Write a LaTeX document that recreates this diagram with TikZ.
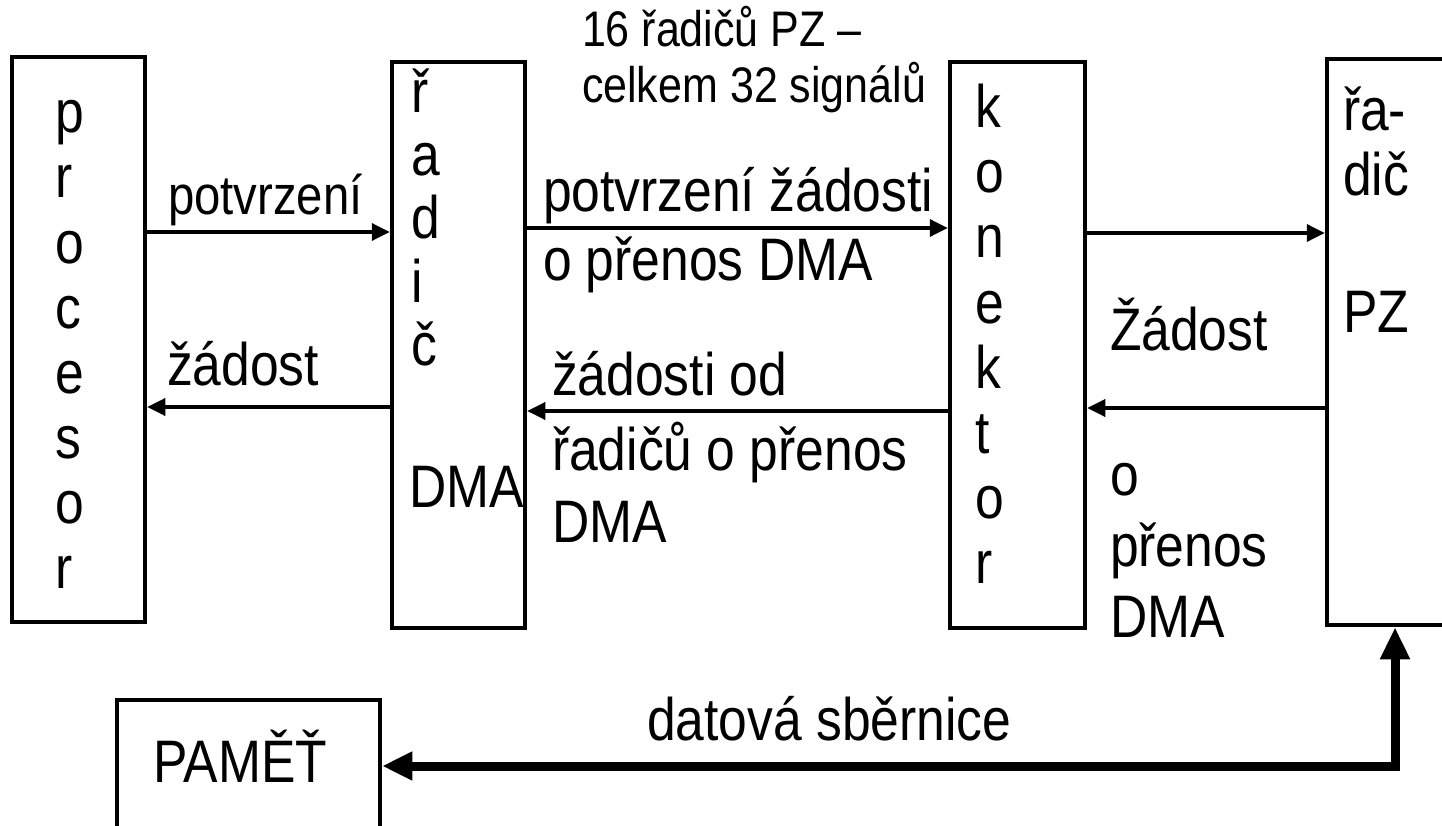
\documentclass[tikz,border=0pt]{standalone}
\usepackage{fontspec}
\setmainfont{Liberation Sans}[FakeStretch=0.86]
\usetikzlibrary{arrows.meta,calc}
\tikzset{
  box/.style={draw, line width=4.5pt, inner sep=0pt, rectangle},
  lbl/.style={anchor=base west, inner sep=0pt, outer sep=0pt, font=\fontsize{60}{66}\selectfont},
  lblsm/.style={lbl, font=\fontsize{55}{60}\selectfont},
  note/.style={lbl, font=\fontsize{50}{56}\selectfont},
  sig/.style={line width=3.5pt, -{Triangle[length=18pt,width=17pt]}},
  bus/.style={line width=9pt, {Triangle[length=30pt,width=27pt]}-{Triangle[length=32pt,width=28pt]}},
}
\begin{document}
\begin{tikzpicture}[x=1pt,y=-1pt]
\useasboundingbox (0,0) rectangle (1442,826);
\clip (0,0) rectangle (1442,826);
% boxes
\node[box, minimum width=133pt, minimum height=565pt] (proc) at (78.5,339.5) {};
\node[box, minimum width=133pt, minimum height=566pt] (rdma) at (458.5,345) {};
\node[box, minimum width=135pt, minimum height=566pt] (kon) at (1017.5,345) {};
\node[box, minimum width=173pt, minimum height=566pt] (rpz) at (1413.5,342) {};
\node[box, minimum width=263pt, minimum height=160pt] (mem) at (248.5,780) {};
% box texts
\foreach \c [count=\i from 0] in {p,r,o,c,e,s,o,r}
  \node[lbl] (pl\i) at (55,{133+65*\i}) {\c};
\foreach \c [count=\i from 0] in {ř,a,d,i,č}
  \node[lbl] (rl\i) at (411,{113+63*\i}) {\c};
\node[lbl] (rdmatxt) at (409,507) {DMA};
\foreach \c [count=\i from 0] in {k,o,n,e,k,t,o,r}
  \node[lbl] (kl\i) at (975,{128+65*\i}) {\c};
\node[lbl] (pz1) at (1343,131) {řa-};
\node[lbl] (pz2) at (1343,196) {dič};
\node[lbl] (pz3) at (1343,332) {PZ};
\node[lbl] (memtxt) at (153,782) {PAMĚŤ};
% levels
\coordinate (yA) at (0,232);
\coordinate (yB) at (0,407);
\coordinate (yC) at (0,228);
\coordinate (yD) at (0,411);
\coordinate (yE) at (0,233);
\coordinate (yF) at (0,408);
\coordinate (bend) at (1395,766);
% connectors
\draw[sig] (proc.east |- yA) -- (rdma.west |- yA);
\draw[sig] (rdma.west |- yB) -- (proc.east |- yB);
\draw[sig] (rdma.east |- yC) -- (kon.west |- yC);
\draw[sig] (kon.west |- yD) -- (rdma.east |- yD);
\draw[sig] (kon.east |- yE) -- (rpz.west |- yE);
\draw[sig] (rpz.west |- yF) -- (kon.east |- yF);
\draw[bus] (mem.east |- bend) -- (bend) -- (rpz.south -| bend);
% labels
\node[note] (n1) at (582,47) {16 řadičů PZ –};
\node[note] (n2) at (582,103) {celkem 32 signálů};
\node[lblsm] (l1) at (168,215) {potvrzení};
\node[lbl] (l2) at (167,385) {žádost};
\node[lbl] (m1) at (543,212) {potvrzení žádosti};
\node[lbl] (m2) at (543,280) {o přenos DMA};
\node[lbl] (m3) at (552,395) {žádosti od};
\node[lbl] (m4) at (552,470) {řadičů o přenos};
\node[lbl] (m5) at (552,542) {DMA};
\node[lbl] (r1) at (1110,350) {Žádost};
\node[lbl] (r2) at (1110,495) {o};
\node[lbl] (r3) at (1110,566) {přenos};
\node[lbl] (r4) at (1110,637) {DMA};
\node[lbl] (bus) at (647,740) {datová sběrnice};
\end{tikzpicture}
\end{document}
